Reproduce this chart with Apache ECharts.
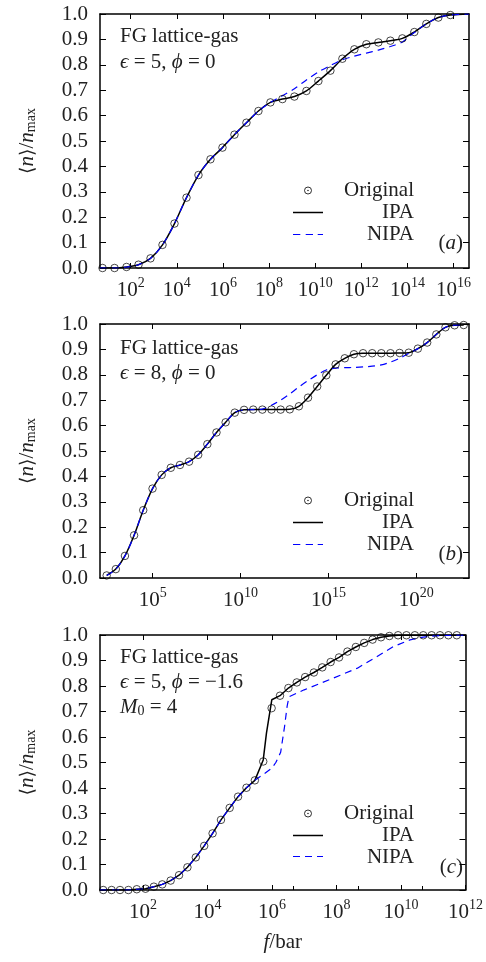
<!DOCTYPE html>
<html><head><meta charset="utf-8">
<script src="https://cdn.jsdelivr.net/npm/echarts@6/dist/echarts.min.js"></script>
<style>html,body{margin:0;padding:0;background:#fff}#c{width:486px;height:962px}</style>
</head><body><div id="c"></div>
<script>
// ---------- DATA (x values are log10 of f / bar) ----------
// panel (a)  epsilon = 5, phi = 0
const aLogF = [0.78,1.30,1.82,2.34,2.86,3.38,3.90,4.42,4.94,5.46,5.98,6.50,7.02,7.54,8.06,8.58,9.10,9.62,10.14,10.66,11.18,11.70,12.22,12.74,13.26,13.78,14.30,14.82,15.34,15.86];
const aOriginal = [0.000,0.000,0.004,0.013,0.038,0.091,0.175,0.277,0.366,0.428,0.474,0.525,0.572,0.618,0.652,0.665,0.675,0.697,0.736,0.777,0.824,0.861,0.881,0.888,0.895,0.904,0.929,0.961,0.986,0.996];
const aIpaLogF = [0.67].concat(aLogF, [16.67]);
const aIpa = [0.000].concat(aOriginal, [1.000]);
const aNipa = [0.000,0.000,0.000,0.004,0.013,0.038,0.091,0.175,0.277,0.366,0.428,0.474,0.525,0.572,0.618,0.652,0.678,0.706,0.740,0.772,0.797,0.820,0.834,0.846,0.858,0.872,0.890,0.927,0.961,0.986,0.996,1.000];

// panel (b)  epsilon = 8, phi = 0
const bLogF = [2.38,2.90,3.42,3.94,4.46,4.99,5.51,6.03,6.55,7.07,7.59,8.11,8.63,9.15,9.67,10.20,10.72,11.24,11.76,12.28,12.80,13.32,13.84,14.36,14.88,15.41,15.93,16.45,16.97,17.49,18.01,18.53,19.05,19.57,20.09,20.62,21.14,21.66,22.18,22.70];
const bOriginal = [0.010,0.035,0.087,0.168,0.267,0.352,0.406,0.434,0.445,0.458,0.485,0.527,0.573,0.613,0.651,0.662,0.663,0.663,0.663,0.663,0.664,0.676,0.710,0.754,0.798,0.841,0.865,0.881,0.885,0.885,0.885,0.885,0.886,0.887,0.903,0.927,0.959,0.987,0.995,0.996];
const bIpa = bOriginal;
const bNipa = [0.010,0.035,0.087,0.168,0.267,0.352,0.406,0.434,0.445,0.458,0.485,0.527,0.573,0.613,0.651,0.662,0.663,0.665,0.680,0.700,0.725,0.752,0.777,0.800,0.819,0.826,0.828,0.829,0.831,0.834,0.839,0.850,0.865,0.884,0.903,0.927,0.959,0.987,0.995,0.996];

// panel (c)  epsilon = 5, phi = -1.6, M0 = 4
const cLogF = [0.77,1.03,1.29,1.55,1.81,2.08,2.34,2.60,2.86,3.12,3.38,3.64,3.90,4.16,4.42,4.69,4.95,5.21,5.47,5.73,5.99,6.25,6.51,6.77,7.03,7.30,7.56,7.82,8.08,8.34,8.60,8.86,9.12,9.38,9.64,9.91,10.17,10.43,10.69,10.95,11.21,11.47,11.73];
const cOriginal = [0,0,0,0,0.003,0.005,0.013,0.022,0.037,0.058,0.089,0.128,0.173,0.222,0.275,0.322,0.366,0.401,0.430,0.504,0.713,0.762,0.792,0.814,0.835,0.853,0.873,0.894,0.912,0.935,0.953,0.969,0.982,0.991,0.996,0.999,0.999,0.999,0.999,0.999,0.999,0.999,0.999];
const cIpaLogF = [0.67].concat(cLogF.slice(0,19), [5.73,5.83,5.995], cLogF.slice(21), [12.0]);
const cIpa = [0].concat(cOriginal.slice(0,19), [0.510,0.615,0.746], cOriginal.slice(21), [1.0]);
const cNipaLogF = [0.67].concat(cLogF.slice(0,19), [5.75,6.00,6.12,6.27,6.39,6.47,6.53,7.00,7.83,8.65,9.26,9.77,10.28,10.69,11.20,12.00]);
const cNipa = [0].concat(cOriginal.slice(0,19), [0.455,0.478,0.500,0.540,0.640,0.720,0.758,0.785,0.827,0.870,0.916,0.955,0.981,0.992,0.998,1.000]);

// tick labels (exponents of 10)
const aTicks = [2,4,6,8,10,12,14,16];
const bTicks = [5,10,15,20];
const cTicks = [2,4,6,8,10,12];
const cMinorTicks = [6.67,8.67,10.67];

// ---------- CHART ----------
const FONT = '"Liberation Serif","DejaVu Serif",serif';
const TXT = '#222';
const BLUE = '#0000ff';
const zip = (xs, ys) => xs.map((x, i) => [x, ys[i]]);

const panels = [
  {top:14, h:254, xmin:0.67, xmax:16.67, ticks:aTicks, minor:null, smooth:0.3, ownDash:false,
   orig:zip(aLogF,aOriginal), ipa:zip(aIpaLogF,aIpa), nipa:zip(aIpaLogF,aNipa),
   legTop:180, label:'a', labY:243, lines:['FG lattice-gas','{i|ϵ} = 5, {i|ϕ} = 0'], textY:[36.5,62.5]},
  {top:324, h:254, xmin:2, xmax:23, ticks:bTicks, minor:null, smooth:0.3, ownDash:false,
   orig:zip(bLogF,bOriginal), ipa:zip(bLogF,bIpa), nipa:zip(bLogF,bNipa),
   legTop:490, label:'b', labY:554, lines:['FG lattice-gas','{i|ϵ} = 8, {i|ϕ} = 0'], textY:[348.5,373]},
  {top:635, h:255, xmin:0.67, xmax:12, ticks:cTicks, minor:cMinorTicks, smooth:false, ownDash:true,
   orig:zip(cLogF,cOriginal), ipa:zip(cIpaLogF,cIpa), nipa:zip(cNipaLogF,cNipa),
   legTop:803, label:'c', labY:867, lines:['FG lattice-gas','{i|ϵ} = 5, {i|ϕ} = −1.6','{i|M}{s|0} = 4'], textY:[657,682,707.5]}
];

const ICON_ORIG = 'path://M1,10A9,9,0,1,1,19,10A9,9,0,1,1,1,10ZM9,10A1,1,0,1,1,11,10A1,1,0,1,1,9,10Z';
const ICON_SOLID = 'path://M0,0h30v1.5h-30Z';
const ICON_DASH = 'path://M0,0h7.3v1.2h-7.3ZM12.7,0h7.3v1.2h-7.3ZM24.7,0h5.3v1.2h-5.3Z';
const ICON_BLANK = 'path://M0,0h0.04v0.04h-0.04ZM29.96,6.96h0.04v0.04h-0.04Z';

const grid = [], xAxis = [], yAxis = [], series = [], legend = [], graphic = [];
const richTok = () => ({
  i:{fontStyle:'italic', fontFamily:FONT, fontSize:21, fill:TXT},
  s:{fontFamily:FONT, fontSize:14, fill:TXT, verticalAlign:'bottom', lineHeight:14},
  r:{fontFamily:FONT, fontSize:21, fill:TXT}
});

panels.forEach((p, k) => {
  const sfx = ' '.repeat(k);
  const nOrig = 'Original' + sfx, nIpa = 'IPA' + sfx, nNipa = 'NIPA' + sfx;

  grid.push({left:100, width:369, top:p.top, height:p.h, show:false});
  const xi = xAxis.length;
  xAxis.push({
    type:'value', gridIndex:k, min:p.xmin, max:p.xmax, position:'bottom',
    axisLine:{show:true, onZero:false, lineStyle:{color:'#000', width:1.5}},
    axisTick:{show:true, inside:true, length:5, customValues:p.ticks, lineStyle:{color:'#000', width:1}},
    axisLabel:{show:true, customValues:p.ticks, margin:8,
      formatter:v => '{b|10}{s|' + Math.round(v) + '}',
      rich:{b:{fontFamily:FONT, fontSize:21, color:TXT, verticalAlign:'bottom', lineHeight:25},
            s:{fontFamily:FONT, fontSize:14, color:TXT, verticalAlign:'top', lineHeight:14}}},
    splitLine:{show:false},
    name: k === 2 ? '{i|f}{r|/bar}' : '', nameLocation:'middle', nameGap:42,
    nameTextStyle:{rich:{i:{fontStyle:'italic', fontFamily:FONT, fontSize:21, color:TXT},
                         r:{fontFamily:FONT, fontSize:21, color:TXT}}}
  });
  xAxis.push({
    type:'value', gridIndex:k, min:p.xmin, max:p.xmax, position:'top',
    axisLine:{show:true, onZero:false, lineStyle:{color:'#000', width:1.5}},
    axisTick:{show:true, inside:true, length:5, customValues:p.ticks, lineStyle:{color:'#000', width:1}},
    axisLabel:{show:false}, splitLine:{show:false}
  });
  if (p.minor) {
    xAxis.push({
      type:'value', gridIndex:k, min:p.xmin, max:p.xmax, position:'bottom',
      axisLine:{show:false},
      axisTick:{show:true, inside:true, length:4, customValues:p.minor, lineStyle:{color:'#000', width:1}},
      axisLabel:{show:false}, splitLine:{show:false}
    });
  }
  const yi = yAxis.length;
  yAxis.push({
    type:'value', gridIndex:k, min:0, max:1, interval:0.1, position:'left',
    axisLine:{show:true, onZero:false, lineStyle:{color:'#000', width:1.5}},
    axisTick:{show:true, inside:true, length:6, lineStyle:{color:'#000', width:1}},
    axisLabel:{show:true, margin:12, formatter:v => v.toFixed(1), fontFamily:FONT, fontSize:21, color:TXT},
    splitLine:{show:false},
    name:'{a|⟨}{i|n}{a|⟩}{r|/}{i|n}{s|max}', nameLocation:'middle', nameRotate:90, nameGap:62,
    nameTextStyle:{rich:{
      a:{fontFamily:'"DejaVu Serif","DejaVu Sans",serif', fontSize:19, color:TXT, lineHeight:24, verticalAlign:'bottom'},
      i:{fontStyle:'italic', fontFamily:FONT, fontSize:21, color:TXT, lineHeight:24, verticalAlign:'bottom'},
      r:{fontFamily:FONT, fontSize:21, color:TXT, lineHeight:24, verticalAlign:'bottom'},
      s:{fontFamily:FONT, fontSize:14, color:TXT, lineHeight:14, verticalAlign:'bottom'}}}
  });
  yAxis.push({
    type:'value', gridIndex:k, min:0, max:1, interval:0.1, position:'right',
    axisLine:{show:true, onZero:false, lineStyle:{color:'#000', width:1.5}},
    axisTick:{show:true, inside:true, length:6, lineStyle:{color:'#000', width:1}},
    axisLabel:{show:false}, splitLine:{show:false}
  });

  series.push({name:nIpa, type:'line', xAxisIndex:xi, yAxisIndex:yi, data:p.ipa, symbol:'none',
    smooth:p.smooth, lineStyle:{color:'#000', width:1.5}, itemStyle:{color:'#000'}, color:'#000', z:2});
  series.push({name:nNipa, type:'line', xAxisIndex:xi, yAxisIndex:yi, data:p.nipa, symbol:'none',
    smooth:p.smooth, lineStyle:{color:BLUE, width:1.2, type:[7,5]}, itemStyle:{color:BLUE}, color:BLUE, z:3});
  series.push({name:nOrig, type:'scatter', xAxisIndex:xi, yAxisIndex:yi, data:p.orig,
    symbol:'circle', symbolSize:7.5,
    itemStyle:{color:'rgba(0,0,0,0)', borderColor:'#000', borderWidth:0.9}, z:4});

  legend.push({
    left:293, top:p.legTop, padding:0, orient:'vertical', itemWidth:30, itemHeight:7, itemGap:1,
    selectedMode:false, z:10,
    data:[
      {name:nOrig, icon:ICON_ORIG, itemStyle:{color:'rgba(0,0,0,0)', borderColor:'#000', borderWidth:1}},
      {name:nIpa, icon:ICON_SOLID, itemStyle:{color:'#000', borderColor:'#000', borderWidth:0}},
      {name:nNipa, icon:p.ownDash ? ICON_BLANK : ICON_DASH, itemStyle:{color:BLUE, borderColor:BLUE, borderWidth:0}}
    ],
    formatter:n => '{t|' + n.trim() + '}',
    textStyle:{rich:{t:{width:86, align:'right', fontFamily:FONT, fontSize:21, color:TXT, lineHeight:22}}}
  });
  if (p.ownDash) {
    // legend sample of the dashed NIPA line for this panel
    graphic.push({type:'line', z:100, shape:{x1:293, y1:p.legTop + 53.5, x2:323, y2:p.legTop + 53.5},
      style:{stroke:BLUE, lineWidth:1.2, lineDash:[7,5]}});
  }

  p.lines.forEach((t, j) => {
    graphic.push({type:'text', x:120, y:p.textY[j],
      style:{text:t, rich:richTok(), fontFamily:FONT, fontSize:21, fill:TXT, align:'left', verticalAlign:'middle'}});
  });
  graphic.push({type:'text', x:463, y:p.labY,
    style:{text:'{r|(}{i|' + p.label + '}{r|)}', rich:richTok(), fontFamily:FONT, fontSize:21, fill:TXT, align:'right', verticalAlign:'middle'}});
});

const chart = echarts.init(document.getElementById('c'), null, {renderer:'canvas'});
chart.setOption({animation:false, backgroundColor:'#fff', grid, xAxis, yAxis, series, legend, graphic});
</script></body></html>
